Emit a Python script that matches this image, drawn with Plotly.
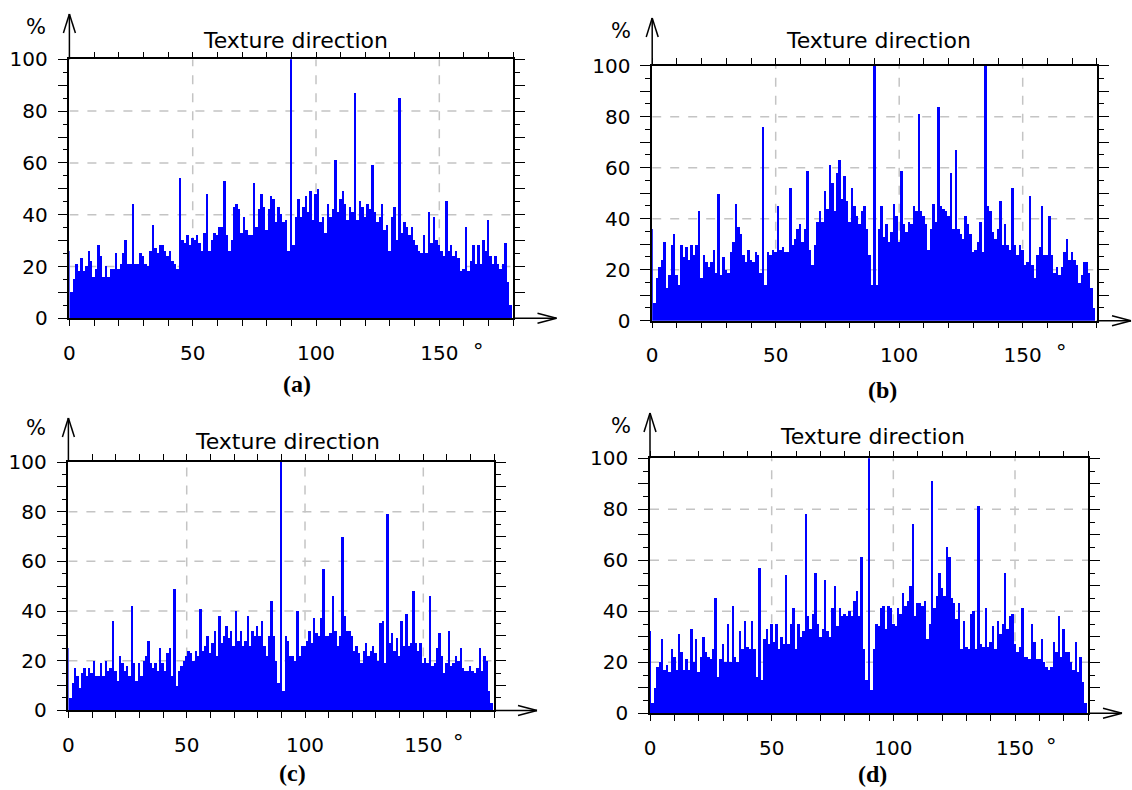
import plotly.graph_objects as go

# Texture direction histograms: share of pixels (%) per 1-degree bin, 0..179 deg
angles = list(range(180))

dir_a = [26, 10, 15, 21, 18, 23, 18, 20, 26, 22,
         16, 19, 28, 24, 16, 20, 16, 19, 19, 25,
         19, 21, 25, 30, 21, 21, 44, 21, 21, 25,
         24, 21, 20, 26, 36, 27, 25, 28, 28, 26,
         24, 26, 22, 21, 19, 54, 30, 29, 32, 28,
         31, 30, 32, 29, 26, 33, 48, 26, 30, 33,
         32, 35, 35, 53, 32, 26, 30, 43, 44, 42,
         33, 39, 34, 32, 32, 52, 35, 42, 48, 43,
         34, 42, 47, 46, 37, 43, 40, 37, 38, 26,
         100, 28, 39, 46, 39, 43, 47, 41, 49, 38,
         48, 50, 37, 39, 33, 44, 39, 42, 61, 41,
         46, 49, 44, 38, 43, 41, 87, 38, 45, 43,
         39, 44, 42, 59, 41, 37, 39, 44, 34, 36,
         26, 39, 43, 30, 85, 33, 37, 35, 32, 35,
         30, 28, 26, 25, 32, 25, 41, 29, 39, 30,
         28, 26, 24, 45, 26, 28, 24, 26, 23, 18,
         19, 35, 18, 22, 28, 21, 28, 21, 30, 26,
         38, 24, 21, 24, 21, 19, 21, 29, 14, 5]

dir_b = [36, 7, 17, 21, 24, 31, 13, 18, 30, 34,
         18, 14, 30, 25, 29, 24, 30, 26, 30, 43,
         17, 26, 23, 21, 23, 28, 19, 50, 18, 25,
         20, 19, 27, 31, 46, 37, 34, 26, 23, 28,
         24, 23, 27, 26, 19, 76, 14, 27, 26, 28,
         27, 45, 28, 29, 27, 27, 52, 30, 32, 36,
         38, 31, 36, 59, 28, 22, 30, 39, 43, 39,
         51, 44, 61, 54, 43, 58, 63, 48, 57, 47,
         39, 52, 45, 41, 38, 43, 45, 36, 26, 14,
         100, 14, 36, 45, 33, 38, 31, 35, 46, 41,
         31, 59, 38, 35, 39, 38, 45, 43, 81, 43,
         41, 38, 28, 36, 46, 39, 84, 45, 44, 43,
         41, 58, 36, 67, 36, 34, 32, 41, 38, 34,
         27, 28, 31, 39, 27, 100, 45, 43, 35, 32,
         36, 47, 30, 38, 30, 28, 52, 30, 26, 30,
         28, 22, 23, 49, 22, 17, 26, 29, 45, 26,
         26, 41, 26, 19, 21, 18, 21, 27, 32, 24,
         27, 24, 22, 15, 18, 23, 23, 19, 13, 5]

dir_c = [25, 5, 11, 17, 14, 9, 15, 17, 14, 17,
         15, 20, 14, 14, 19, 14, 20, 16, 17, 36,
         16, 12, 22, 19, 16, 18, 14, 42, 19, 12,
         19, 14, 20, 22, 28, 19, 17, 19, 16, 25,
         19, 16, 23, 25, 14, 49, 10, 16, 18, 20,
         22, 24, 23, 20, 24, 22, 41, 24, 26, 30,
         23, 27, 32, 22, 38, 27, 30, 34, 29, 32,
         26, 40, 28, 32, 26, 28, 38, 26, 32, 30,
         34, 30, 36, 26, 22, 30, 44, 30, 20, 11,
         100, 8, 30, 28, 22, 22, 20, 40, 22, 26,
         26, 28, 32, 27, 37, 31, 30, 37, 57, 30,
         30, 31, 46, 32, 26, 30, 70, 38, 32, 32,
         30, 24, 26, 23, 19, 24, 27, 22, 24, 26,
         23, 20, 35, 36, 19, 79, 27, 31, 24, 29,
         22, 36, 26, 39, 26, 27, 48, 27, 24, 27,
         19, 21, 19, 46, 18, 19, 25, 31, 22, 15,
         19, 32, 18, 19, 22, 20, 25, 17, 16, 16,
         18, 16, 15, 17, 25, 16, 22, 20, 8, 3]

dir_d = [32, 4, 10, 18, 20, 29, 17, 19, 16, 25,
         22, 17, 31, 24, 17, 21, 17, 33, 20, 29,
         16, 22, 30, 24, 22, 21, 25, 45, 14, 21,
         27, 20, 35, 20, 42, 22, 20, 32, 25, 36,
         26, 25, 36, 25, 14, 57, 13, 29, 33, 27,
         35, 28, 35, 25, 30, 27, 54, 27, 35, 41,
         25, 35, 30, 32, 78, 38, 33, 39, 55, 35,
         30, 33, 52, 32, 30, 41, 50, 34, 41, 38,
         39, 38, 40, 38, 44, 48, 38, 61, 25, 13,
         100, 9, 25, 35, 34, 41, 42, 33, 42, 41,
         35, 34, 41, 39, 47, 42, 44, 50, 74, 38,
         43, 43, 42, 44, 29, 35, 91, 41, 46, 55,
         49, 46, 65, 61, 45, 43, 37, 43, 25, 36,
         26, 25, 39, 40, 25, 81, 27, 26, 41, 26,
         28, 34, 25, 36, 31, 35, 55, 33, 38, 39,
         27, 24, 26, 41, 22, 22, 21, 35, 28, 21,
         21, 29, 20, 18, 17, 18, 28, 24, 38, 22,
         33, 24, 24, 20, 17, 28, 16, 22, 12, 4]

x_tickvals = [0, 50, 100, 150]
x_ticktext = ["0", "50", "100", "150"]
y_tickvals = list(range(0, 101, 10))
y_ticktext = [str(v) if v % 20 == 0 else "" for v in y_tickvals]
grid_x = [50, 100, 150]
grid_y = [20, 40, 60, 80]

W, H = 1132, 790
FONT = "DejaVu Sans"
BLUE = "#0000ff"


def px(x):
    return x / W


def py(y):
    return 1 - y / H


# pixel frame of each panel: left/right of the 0..180 range, top/bottom of 0..100
panels = [
    dict(vals=dir_a, left=69.4, right=513.3, top=59.3, bottom=318.3,
         xtip=556.5, ytip=14, title=(295, 40), label="(a)", label_pos=(297, 384),
         pct=(36, 27), deg=(478, 352)),
    dict(vals=dir_b, left=652.2, right=1096.8, top=65.7, bottom=320.7,
         xtip=1131, ytip=18, title=(878, 40), label="(b)", label_pos=(882, 390),
         pct=(621, 31), deg=(1061, 353)),
    dict(vals=dir_c, left=68.4, right=494.3, top=462, bottom=710.4,
         xtip=537, ytip=418, title=(287, 441), label="(c)", label_pos=(292, 773),
         pct=(36, 428), deg=(458, 743)),
    dict(vals=dir_d, left=650, right=1088, top=458.3, bottom=713.3,
         xtip=1122, ytip=413, title=(872, 437), label="(d)", label_pos=(872, 774),
         pct=(621, 426), deg=(1051, 747)),
]

fig = go.Figure()
shapes = []
annotations = []
layout_axes = {}

for i, p in enumerate(panels, start=1):
    xa = "x" if i == 1 else f"x{i}"
    ya = "y" if i == 1 else f"y{i}"
    fig.add_trace(go.Bar(
        x=angles, y=p["vals"], width=1.0, xaxis=xa, yaxis=ya,
        marker=dict(color=BLUE, line=dict(width=0)), showlegend=False,
        hoverinfo="x+y",
    ))

    axis_common = dict(
        showline=True, linecolor="black", linewidth=1.5, mirror="ticks",
        ticks="outside", tickcolor="black", tickwidth=1.3,
        showgrid=False, zeroline=False, fixedrange=True, automargin=False,
        tickfont=dict(family=FONT, size=20, color="black"),
    )
    layout_axes["xaxis" if i == 1 else f"xaxis{i}"] = dict(
        axis_common,
        domain=[px(p["left"]), px(p["right"])], range=[0, 180],
        anchor=ya, tickmode="array", tickvals=x_tickvals, ticktext=x_ticktext,
        ticklen=6, ticklabelstandoff=10,
        minor=dict(tick0=0, dtick=10, ticks="outside", ticklen=6,
                   tickwidth=1.2, tickcolor="black", showgrid=False),
    )
    layout_axes["yaxis" if i == 1 else f"yaxis{i}"] = dict(
        axis_common,
        domain=[py(p["bottom"]), py(p["top"])], range=[0, 100],
        anchor=xa, tickmode="array", tickvals=y_tickvals, ticktext=y_ticktext,
        ticklen=10, ticklabelstandoff=6,
        minor=dict(tick0=0, dtick=5, ticks="outside", ticklen=5,
                   tickwidth=1.2, tickcolor="black", showgrid=False),
    )

    # dashed grid behind the bars
    for gx in grid_x:
        shapes.append(dict(type="line", xref=xa, yref=ya, x0=gx, x1=gx, y0=0, y1=100,
                           line=dict(color="#c4c4c4", width=1.5, dash="dash"), layer="below"))
    for gy in grid_y:
        shapes.append(dict(type="line", xref=xa, yref=ya, x0=0, x1=180, y0=gy, y1=gy,
                           line=dict(color="#c4c4c4", width=1.5, dash="dash"), layer="below"))

    # axis arrows running past the frame
    ax_line = dict(color="black", width=1.5)
    shapes.append(dict(type="line", xref="paper", yref="paper",
                       x0=px(p["right"]), x1=px(p["xtip"]), y0=py(p["bottom"]), y1=py(p["bottom"]),
                       line=ax_line))
    for dy in (-5, 5):
        shapes.append(dict(type="line", xref="paper", yref="paper",
                           x0=px(p["xtip"] - 19), x1=px(p["xtip"]),
                           y0=py(p["bottom"] + dy), y1=py(p["bottom"]), line=ax_line))
    shapes.append(dict(type="line", xref="paper", yref="paper",
                       x0=px(p["left"]), x1=px(p["left"]), y0=py(p["top"]), y1=py(p["ytip"]),
                       line=ax_line))
    for dx in (-6, 6):
        shapes.append(dict(type="line", xref="paper", yref="paper",
                           x0=px(p["left"] + dx), x1=px(p["left"]),
                           y0=py(p["ytip"] + 19), y1=py(p["ytip"]), line=ax_line))

    annotations.append(dict(text="Texture direction", xref="paper", yref="paper",
                            x=px(p["title"][0]), y=py(p["title"][1]),
                            showarrow=False, xanchor="center", yanchor="middle",
                            font=dict(family=FONT, size=22, color="black")))
    annotations.append(dict(text="%", xref="paper", yref="paper",
                            x=px(p["pct"][0]), y=py(p["pct"][1]),
                            showarrow=False, xanchor="center", yanchor="middle",
                            font=dict(family=FONT, size=21, color="black")))
    annotations.append(dict(text="°", xref="paper", yref="paper",
                            x=px(p["deg"][0]), y=py(p["deg"][1]),
                            showarrow=False, xanchor="center", yanchor="middle",
                            font=dict(family=FONT, size=21, color="black")))
    annotations.append(dict(text=f"<b>{p['label']}</b>", xref="paper", yref="paper",
                            x=px(p["label_pos"][0]), y=py(p["label_pos"][1]),
                            showarrow=False, xanchor="center", yanchor="middle",
                            font=dict(family="Liberation Serif", size=24, color="black")))

fig.update_layout(
    width=W, height=H, autosize=False,
    margin=dict(l=0, r=0, t=0, b=0, autoexpand=False),
    paper_bgcolor="white", plot_bgcolor="rgba(0,0,0,0)",
    bargap=0, shapes=shapes, annotations=annotations,
    **layout_axes,
)

fig.write_html("out.html")
